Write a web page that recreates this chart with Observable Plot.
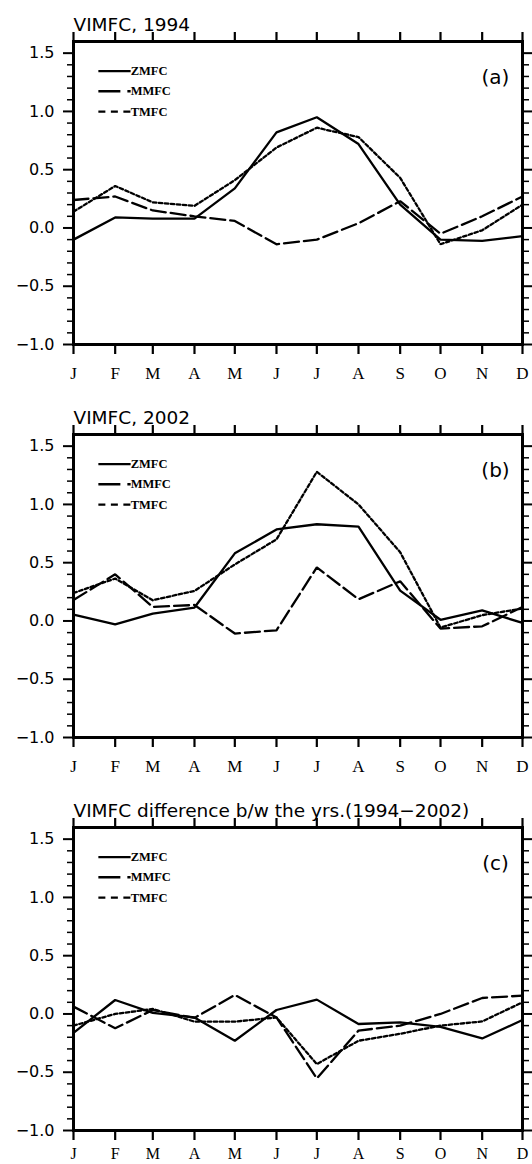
<!DOCTYPE html>
<html><head><meta charset="utf-8">
<script src="https://cdn.jsdelivr.net/npm/d3@7"></script>
<script src="https://cdn.jsdelivr.net/npm/@observablehq/plot@0.6"></script>
<style>
body{margin:0;background:#fff;}
#chart{width:532px;}
#chart svg{display:block;overflow:visible;}
</style></head><body><div id="chart"></div>
<script>
const monthLabels = ["J","F","M","A","M","J","J","A","S","O","N","D"];
const seriesNames = ["ZMFC","MMFC","TMFC"];
const panelTitles = ["VIMFC, 1994","VIMFC, 2002","VIMFC difference b/w the yrs.(1994\u22122002)"];
const panelTags = ["(a)","(b)","(c)"];
const yMajorTicks = [-1.0,-0.5,0.0,0.5,1.0,1.5];

const zmfc1994 = [-0.10,0.09,0.08,0.08,0.34,0.82,0.95,0.72,0.20,-0.10,-0.11,-0.07];
const mmfc1994 = [0.24,0.27,0.15,0.10,0.06,-0.14,-0.10,0.04,0.23,-0.05,0.10,0.27];
const tmfc1994 = [0.14,0.36,0.22,0.19,0.41,0.69,0.86,0.78,0.43,-0.14,-0.02,0.20];

const zmfc2002 = [0.055,-0.03,0.063,0.115,0.58,0.785,0.83,0.81,0.26,0.01,0.09,-0.017];
const mmfc2002 = [0.18,0.40,0.12,0.137,-0.108,-0.08,0.46,0.186,0.34,-0.065,-0.046,0.12];
const tmfc2002 = [0.24,0.364,0.178,0.258,0.485,0.70,1.28,1.00,0.59,-0.057,0.05,0.107];

const zmfcDiff = [-0.163,0.12,0.01,-0.03,-0.23,0.034,0.123,-0.086,-0.072,-0.11,-0.21,-0.052];
const mmfcDiff = [0.063,-0.123,0.034,-0.034,0.163,-0.03,-0.553,-0.143,-0.10,0.0,0.137,0.157];
const tmfcDiff = [-0.10,0.0,0.043,-0.066,-0.066,-0.03,-0.43,-0.23,-0.17,-0.10,-0.064,0.10];

const panelsData = [
  [zmfc1994, mmfc1994, tmfc1994],
  [zmfc2002, mmfc2002, tmfc2002],
  [zmfcDiff, mmfcDiff, tmfcDiff]
];

const months = monthLabels.map((_, i) => new Date(Date.UTC(2001, i, 1)));
const yMinorTicks = d3.range(-10, 16).map(v => v / 10).filter(v => Math.abs(v * 2 - Math.round(v * 2)) > 1e-6);

const lineDash = ["none", "15,5", "3.5,2.5"];
const legendDash = ["none", "22,7", "7,5.5"];
const legendLevels = [1.345, 1.173, 0.999];
const legendX1 = new Date(Date.UTC(2001, 0, 19, 12));
const legendX2 = new Date(Date.UTC(2001, 1, 12, 12));

const layout = [
  {height: 393, marginBottom: 49, labelPad: 12, labelSize: 17},
  {height: 393, marginBottom: 49, labelPad: 12, labelSize: 17},
  {height: 378, marginBottom: 34, labelPad: 7, labelSize: 16}
];

const chart = document.getElementById("chart");
const blank = () => "";

panelsData.forEach((seriesList, k) => {
  const rows = [];
  seriesList.forEach((vals, s) => vals.forEach((v, i) => rows.push({date: months[i], value: v, series: seriesNames[s]})));
  const legendRows = seriesNames.map((name, s) => ({name, s, x1: legendX1, x2: legendX2, y: legendLevels[s]}));

  const marks = [
    Plot.axisY({anchor: "left", ticks: yMajorTicks, tickSize: 10, tickPadding: 9, strokeWidth: 2,
      tickFormat: d3.format(".1f"), fontSize: 16, fontFamily: "DejaVu Sans", label: null}),
    Plot.axisY({anchor: "left", ticks: yMinorTicks, tickSize: 6, strokeWidth: 1.5, tickFormat: blank, label: null}),
    Plot.axisY({anchor: "right", ticks: yMajorTicks, tickSize: 9, strokeWidth: 2, tickFormat: blank, label: null}),
    Plot.axisY({anchor: "right", ticks: yMinorTicks, tickSize: 6, strokeWidth: 1.5, tickFormat: blank, label: null}),
    Plot.axisX({anchor: "top", ticks: months, tickSize: 10, strokeWidth: 2.2, tickFormat: blank, label: null}),
    Plot.axisX({anchor: "bottom", ticks: months, tickSize: 10, tickPadding: layout[k].labelPad, strokeWidth: 2.2,
      tickFormat: d => monthLabels[d.getUTCMonth()], fontSize: layout[k].labelSize, fontFamily: "Liberation Serif", label: null}),
    ...seriesNames.map((name, s) => Plot.line(rows.filter(r => r.series === name), {
      x: "date", y: "value", stroke: "black", strokeWidth: 2.3, strokeDasharray: lineDash[s], strokeLinejoin: "miter"
    })),
    ...legendRows.map(r => Plot.link([r], {x1: "x1", x2: "x2", y1: "y", y2: "y", stroke: "black", strokeWidth: 2.3, strokeDasharray: legendDash[r.s]})),
    Plot.text(legendRows, {x: "x2", y: "y", text: "name", textAnchor: "start", fontFamily: "Liberation Serif", fontWeight: "bold", fontSize: 12.5, fill: "black"}),
    Plot.text([panelTags[k]], {frameAnchor: "top-right", dx: -27, dy: 28, textAnchor: "middle", fontFamily: "DejaVu Sans", fontSize: 20, fill: "black"}),
    Plot.text([panelTitles[k]], {frameAnchor: "top-left", dy: -11, lineAnchor: "bottom", textAnchor: "start", fontFamily: "DejaVu Sans", fontSize: 18.5, fill: "black"}),
    Plot.frame({stroke: "black", strokeWidth: 3})
  ];

  const svg = Plot.plot({
    width: 532,
    height: layout[k].height,
    marginTop: 41,
    marginBottom: layout[k].marginBottom,
    marginLeft: 73,
    marginRight: 10,
    style: {background: "white", color: "black", overflow: "visible"},
    x: {type: "utc", domain: [months[0], months[11]]},
    y: {domain: [-1, 1.6]},
    marks
  });
  chart.appendChild(svg);
});
</script>
</body></html>
